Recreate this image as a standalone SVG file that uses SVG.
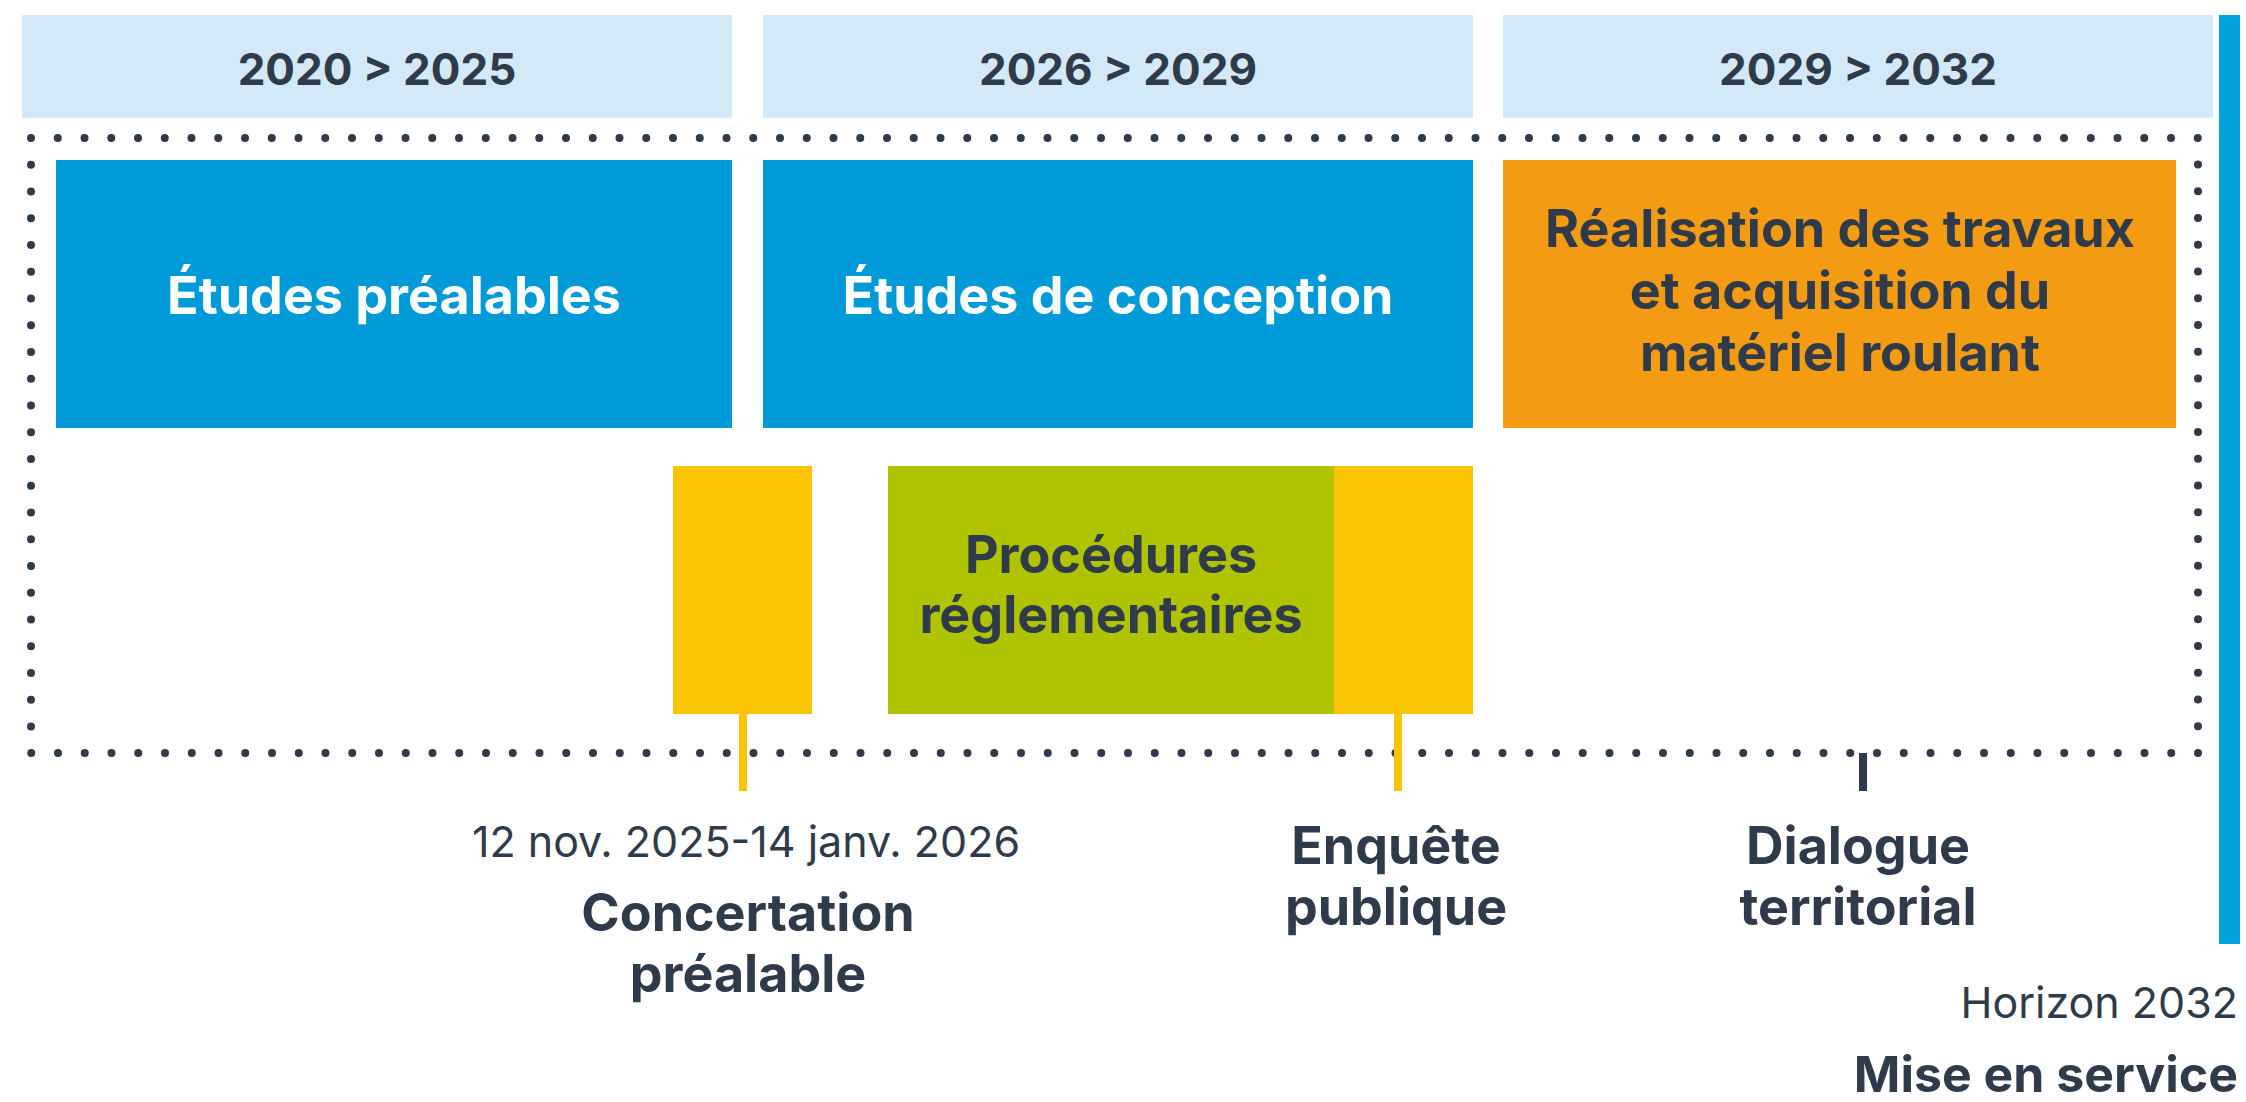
<svg xmlns="http://www.w3.org/2000/svg" width="2246" height="1102" viewBox="0 0 2246 1102">
<style>
  .hdr { fill: #d4e9f7; }
  .blue { fill: #009ad9; }
  .orange { fill: #f39b13; }
  .yellow { fill: #fac400; }
  .green { fill: #afc300; }
  text { font-family: Inter, "Liberation Sans", sans-serif; fill: #2f3b4a; }
  .b { font-weight: 700; }
  .r { font-weight: 400; }
  .c { text-anchor: middle; }
  .e { text-anchor: end; }
  .w { fill: #ffffff; }
  .hdrt { font-size: 44px; font-weight: 700; }
  .big { font-size: 52px; }
  .stemY { fill: #fac400; }
  .stemD { fill: #2f3b4a; }
</style>
<rect width="2246" height="1102" fill="#ffffff"/>

<g id="frame">
  <path d="M31,138 H2198 V753 H31 Z" fill="none" stroke="#2f3b4a" stroke-width="8" stroke-linecap="round" stroke-dasharray="0 26.75"/>
</g>

<g id="header-2020-2025">
  <rect class="hdr" x="22" y="15" width="710" height="103"/>
  <text class="hdrt c" x="377" y="85">2020 &gt; 2025</text>
</g>
<g id="header-2026-2029">
  <rect class="hdr" x="763" y="15" width="710" height="103"/>
  <text class="hdrt c" x="1118" y="85">2026 &gt; 2029</text>
</g>
<g id="header-2029-2032">
  <rect class="hdr" x="1503" y="15" width="710" height="103"/>
  <text class="hdrt c" x="1858" y="85">2029 &gt; 2032</text>
</g>

<g id="horizon-bar">
  <rect x="2219" y="15" width="21" height="929" fill="#00a3dd"/>
</g>

<g id="etudes-prealables">
  <rect class="blue" x="56" y="160" width="676" height="268"/>
  <text class="b big c w" x="394" y="314">Études préalables</text>
</g>
<g id="etudes-conception">
  <rect class="blue" x="763" y="160" width="710" height="268"/>
  <text class="b big c w" x="1118" y="314">Études de conception</text>
</g>
<g id="realisation">
  <rect class="orange" x="1503" y="160" width="673" height="268"/>
  <text class="b big c" x="1840" y="247">Réalisation des travaux</text>
  <text class="b big c" x="1840" y="309">et acquisition du</text>
  <text class="b big c" x="1840" y="371">matériel roulant</text>
</g>

<g id="concertation-bar">
  <rect class="yellow" x="673" y="466" width="139" height="248"/>
</g>
<g id="procedures">
  <rect class="green" x="888" y="466" width="446" height="248"/>
  <text class="b big c" x="1111" y="573">Procédures</text>
  <text class="b big c" x="1111" y="633">réglementaires</text>
</g>
<g id="enquete-bar">
  <rect class="yellow" x="1334" y="466" width="139" height="248"/>
</g>

<g id="connectors">
  <rect class="stemY" x="739" y="714" width="8" height="77"/>
  <rect class="stemY" x="1394" y="714" width="8" height="77"/>
  <rect class="stemD" x="1859" y="753" width="8" height="38"/>
</g>

<g id="label-concertation">
  <text class="r c" x="746" y="857" font-size="43">12 nov. 2025-14 janv. 2026</text>
  <text class="b big c" x="748" y="931">Concertation</text>
  <text class="b big c" x="748" y="992">préalable</text>
</g>
<g id="label-enquete">
  <text class="b big c" x="1396" y="864">Enquête</text>
  <text class="b big c" x="1396" y="925">publique</text>
</g>
<g id="label-dialogue">
  <text class="b big c" x="1858" y="864">Dialogue</text>
  <text class="b big c" x="1858" y="925">territorial</text>
</g>
<g id="label-mise-en-service">
  <text class="r e" x="2238" y="1018" font-size="43">Horizon 2032</text>
  <text class="b e" x="2238" y="1092" font-size="50">Mise en service</text>
</g>
</svg>
